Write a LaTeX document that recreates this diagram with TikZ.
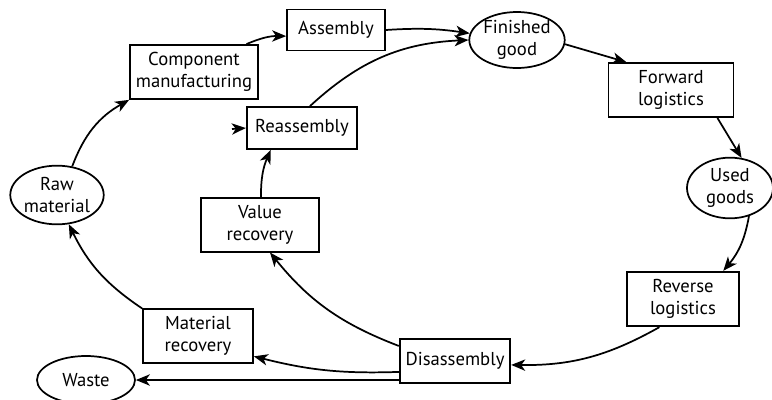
\documentclass[tikz,border=0pt]{standalone}
\usepackage{fontspec}
\setmainfont{PT Sans}
\usepackage{tikz}
\usetikzlibrary{arrows.meta,shapes.geometric}

\tikzset{
  stagebox/.style={draw, line width=1.3pt, align=center, inner sep=0pt,
    font=\fontsize{14}{16.5}\selectfont},
  goodoval/.style={stagebox, ellipse},
  flow/.style={line width=1.3pt, -{Stealth[length=10.5pt,width=8.5pt,inset=3pt]}}
}

\begin{document}
\begin{tikzpicture}[x=0.75pt,y=0.75pt,yscale=-1,xscale=1]
\useasboundingbox (0,0) rectangle (772,400); %diagram is 772 wide and 400 high

%Shape: Ellipse
\node (raw) [goodoval, minimum width=67.5pt, minimum height=44pt] at (57,195) {Raw\\material};
%Shape: Rectangle
\node (comp) [stagebox, minimum width=96pt, minimum height=40.5pt] at (194,72) {Component\\manufacturing};
%Shape: Rectangle
\node (asm) [stagebox, minimum width=73.5pt, minimum height=30.75pt] at (336,30) {Assembly};
%Shape: Ellipse
\node (fin) [goodoval, minimum width=68.25pt, minimum height=42pt] at (517,40) {Finished\\good};
%Shape: Rectangle
\node (fwd) [stagebox, minimum width=93.75pt, minimum height=40.5pt] at (671,90) {Forward\\logistics};
%Shape: Ellipse
\node (used) [goodoval, minimum width=64.5pt, minimum height=45.5pt] at (730,188) {Used\\goods};
%Shape: Rectangle
\node (rev) [stagebox, minimum width=84pt, minimum height=41pt] at (683,299) {Reverse\\logistics};
%Shape: Rectangle
\node (dis) [stagebox, minimum width=83pt, minimum height=33pt] at (455,361) {Disassembly};
%Shape: Ellipse
\node (waste) [goodoval, minimum width=73.5pt, minimum height=36pt] at (86,380) {Waste};
%Shape: Rectangle
\node (mat) [stagebox, minimum width=82.5pt, minimum height=40pt] at (198,336) {Material\\recovery};
%Shape: Rectangle
\node (val) [stagebox, minimum width=88pt, minimum height=40pt] at (260,225) {Value\\recovery};
%Shape: Rectangle
\node (reas) [stagebox, minimum width=83pt, minimum height=31.5pt] at (302,128) {Reassembly};
\coordinate (stub) at (232,129);

% Forward loop (yscale=-1, so bend right bows to the left of travel)
\draw [flow] (raw.62) to[bend right=20] (comp.south west);
\draw [flow] (comp.28) to[bend right=12] (asm.187);
\draw [flow] (asm.east) to[bend right=6] (fin.172);
\draw [flow] (fin.-5) -- (fwd.148);
\draw [flow] (fwd.-31) -- (used.69);
\draw [flow] (used.-56) to[bend right=15] (rev.35);
\draw [flow] (rev.230) to[bend right=15] (dis.-4);

% Recovery paths
\draw [flow] (dis.165) to[bend right=15] (val.-70);
\draw [flow] (dis.191) to[bend right=8] (mat.-20);
\draw [flow] (waste.east -| dis.west) -- (waste.east);
\draw [flow] (mat.north west) to[bend right=15] (raw.-68);
\draw [flow] (val.88) to[bend right=12] (reas.215);
\draw [flow] (reas.70) to[bend right=20] (fin.180);
\draw [flow] (stub) -- (reas.west);

\end{tikzpicture}
\end{document}
